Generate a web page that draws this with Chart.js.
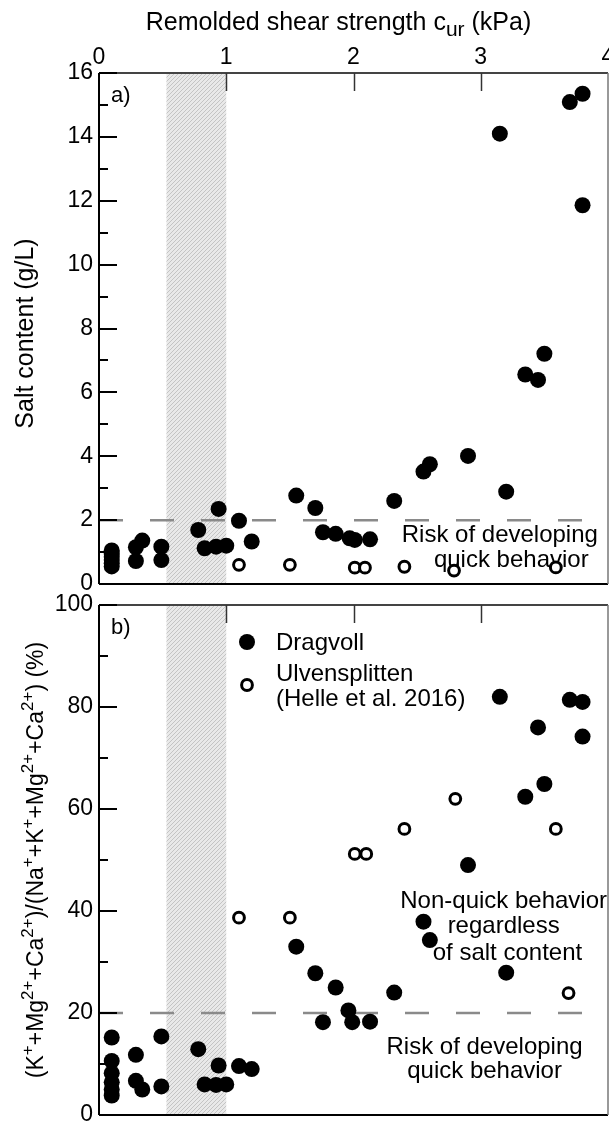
<!DOCTYPE html>
<html>
<head>
<meta charset="utf-8">
<script src="https://cdn.jsdelivr.net/npm/chart.js@4.4.1/dist/chart.umd.min.js"></script>
<style>
  html, body { margin: 0; padding: 0; background: #fff; }
  #wrap { position: relative; width: 609px; height: 1121px; overflow: hidden; }
  canvas { position: absolute; left: 0; }
  #chartA { top: 0; }
  #chartB { top: 580px; }
</style>
</head>
<body>
<div id="wrap">
  <canvas id="chartB" width="609" height="541"></canvas>
  <canvas id="chartA" width="609" height="600"></canvas>
</div>
<script>
// ---- data ----
// panel a) salt content vs remolded shear strength
const dragvollCurA  = [0.10,0.10,0.10,0.10,0.10,0.10, 0.29,0.34,0.29, 0.49,0.49, 0.78,0.83,0.92,1.00,0.94,
                       1.10,1.20, 1.55,1.70,1.76,1.86,1.97,2.01,2.13, 2.32,2.55,2.60,2.90,3.20,
                       3.15,3.35,3.45,3.50,3.70,3.80,3.80];
const dragvollSalt  = [1.05,0.95,0.85,0.75,0.65,0.55, 1.15,1.36,0.72, 1.17,0.75, 1.69,1.12,1.17,1.20,2.35,
                       1.98,1.33, 2.77,2.38,1.62,1.57,1.43,1.38,1.40, 2.60,3.52,3.75,4.01,2.89,
                       14.10,6.56,6.39,7.21,15.09,15.35,11.86];
const ulvenCurA     = [1.10,1.50,2.01,2.09,2.40,2.79,3.59];
const ulvenSalt     = [0.60,0.60,0.51,0.51,0.54,0.42,0.52];

// panel b) divalent+K ratio vs remolded shear strength
const dragvollCurB  = [0.10,0.10,0.10,0.10,0.10,0.10, 0.29,0.29,0.34, 0.49,0.49, 0.78,0.83,0.92,1.00,0.94,
                       1.10,1.20, 1.55,1.70,1.76,1.86,1.96,1.99,2.13, 2.32,2.55,2.60,2.90,3.20,
                       3.15,3.35,3.45,3.50,3.70,3.80,3.80];
const dragvollRatio = [15.2,10.6,8.2,6.4,5.0,3.8, 11.8,6.7,5.0, 15.4,5.6, 12.9,6.0,5.9,6.0,9.7,
                       9.6,9.0, 33.0,27.8,18.2,25.0,20.5,18.2,18.3, 24.0,37.9,34.3,49.0,27.9,
                       82.0,62.4,76.0,64.9,81.4,81.0,74.2];
const ulvenCurB     = [1.10,1.50,2.01,2.10,2.40,2.80,3.59,3.69];
const ulvenRatio    = [38.7,38.7,51.2,51.2,56.1,62.0,56.1,23.9];

const saltLimit  = 2;
const ratioLimit = 20;
const bandRange  = [0.53, 1.0];
const xTickMarks = [1, 2, 3];

const FONT = "'Liberation Sans', Arial, sans-serif";
Chart.defaults.font.family = FONT;
Chart.defaults.color = '#000';

function pts(xs, ys) { return xs.map((x, i) => ({ x: x, y: ys[i] })); }

function hatch(ctx) {
  const c = document.createElement('canvas');
  c.width = 4; c.height = 4;
  const g = c.getContext('2d');
  g.fillStyle = '#e9e9e9'; g.fillRect(0, 0, 4, 4);
  g.strokeStyle = '#c4c4c4'; g.lineWidth = 1;
  g.beginPath();
  g.moveTo(0, 4); g.lineTo(4, 0);
  g.moveTo(-1, 1); g.lineTo(1, -1);
  g.moveTo(3, 5); g.lineTo(5, 3);
  g.stroke();
  return ctx.createPattern(c, 'repeat');
}

// text with super/subscripts: parts = [[text, mode]] mode 0 normal, 1 sup, -1 sub
function drawRich(ctx, parts, x, y, size) {
  const fontFor = m => (m === 0 ? size : Math.round(size * (m === 1 ? 0.72 : 0.85))) + 'px ' + FONT;
  let total = 0;
  parts.forEach(p => { ctx.font = fontFor(p[1]); total += ctx.measureText(p[0]).width; });
  let cx = x - total / 2;
  ctx.textAlign = 'left';
  ctx.textBaseline = 'alphabetic';
  parts.forEach(p => {
    ctx.font = fontFor(p[1]);
    const dy = p[1] === 1 ? -size * 0.42 : (p[1] === -1 ? size * 0.25 : 0);
    ctx.fillText(p[0], cx, y + dy);
    cx += ctx.measureText(p[0]).width;
  });
}

function dataset(data, filled) {
  return {
    data: data,
    pointRadius: filled ? 8 : 5.4,
    pointBackgroundColor: filled ? '#000' : '#fff',
    pointBorderColor: '#000',
    pointBorderWidth: filled ? 0 : 3,
    order: filled ? 2 : 1
  };
}

function limitLine(v) {
  return {
    type: 'line',
    data: [{ x: 0, y: v }, { x: 4, y: v }],
    showLine: true,
    pointRadius: 0,
    borderColor: '#8a8a8a',
    borderWidth: 2.5,
    borderDash: [24, 27],
    order: 3
  };
}

function panelPlugin(o) {
  return {
    id: 'panel_' + o.label,
    beforeDatasetsDraw(chart) {
      const { ctx, chartArea: a, scales: { x, y } } = chart;
      ctx.save();
      const x0 = x.getPixelForValue(bandRange[0]), x1 = x.getPixelForValue(bandRange[1]);
      ctx.fillStyle = hatch(ctx);
      ctx.fillRect(x0, a.top, x1 - x0, a.bottom - a.top);
      ctx.fillStyle = '#000';
      ctx.font = '24px ' + FONT;
      ctx.textAlign = 'center';
      ctx.textBaseline = 'alphabetic';
      o.notes.forEach(n => ctx.fillText(n[0], x.getPixelForValue(n[1]), y.getPixelForValue(n[2])));
      ctx.restore();
    },
    afterDraw(chart) {
      const { ctx, chartArea: a, scales: { x, y } } = chart;
      ctx.save();
      // frame
      ctx.lineWidth = 2;
      ctx.strokeStyle = '#444';
      ctx.beginPath(); ctx.moveTo(a.left, a.top); ctx.lineTo(a.right, a.top); ctx.stroke();
      ctx.strokeStyle = '#000';
      ctx.beginPath(); ctx.moveTo(a.left, a.bottom); ctx.lineTo(a.right, a.bottom); ctx.stroke();
      ctx.beginPath(); ctx.moveTo(a.left, a.top); ctx.lineTo(a.left, a.bottom); ctx.stroke();
      ctx.strokeStyle = '#777'; ctx.lineWidth = 1.5;
      ctx.beginPath(); ctx.moveTo(a.right, a.top); ctx.lineTo(a.right, a.bottom); ctx.stroke();
      // inward ticks
      ctx.strokeStyle = '#000'; ctx.lineWidth = 2;
      y.ticks.forEach(t => {
        const py = Math.round(y.getPixelForValue(t.value));
        const len = t.value % o.major === 0 ? 18 : 9;
        ctx.beginPath(); ctx.moveTo(a.left, py); ctx.lineTo(a.left + len, py); ctx.stroke();
      });
      ctx.strokeStyle = '#333'; ctx.lineWidth = 1.5;
      xTickMarks.forEach(v => {
        const px = Math.round(x.getPixelForValue(v)) + 0.5;
        ctx.beginPath(); ctx.moveTo(px, a.top); ctx.lineTo(px, a.top + 18); ctx.stroke();
      });
      // panel label
      ctx.fillStyle = '#000';
      ctx.font = '22px ' + FONT;
      ctx.textAlign = 'left';
      ctx.textBaseline = 'alphabetic';
      ctx.fillText(o.label, a.left + 12, a.top + 29);
      // y title (rotated)
      ctx.save();
      ctx.translate(o.yTitleX, (a.top + a.bottom) / 2 + o.yTitleShift);
      ctx.rotate(-Math.PI / 2);
      drawRich(ctx, o.yTitle, 0, 0, o.yTitleSize);
      ctx.restore();
      if (o.xTitle) drawRich(ctx, o.xTitle, (a.left + a.right) / 2 - 15, 30, 25);
      if (o.legend) {
        const lx = a.left + 148;
        ctx.fillStyle = '#000';
        ctx.beginPath(); ctx.arc(lx, a.top + 37, 8, 0, Math.PI * 2); ctx.fill();
        ctx.beginPath(); ctx.arc(lx, a.top + 80, 5.4, 0, Math.PI * 2);
        ctx.fillStyle = '#fff'; ctx.fill();
        ctx.lineWidth = 3; ctx.strokeStyle = '#000'; ctx.stroke();
        ctx.fillStyle = '#000';
        ctx.font = '24px ' + FONT;
        ctx.textAlign = 'left';
        ctx.fillText('Dragvoll', a.left + 177, a.top + 45);
        ctx.fillText('Ulvensplitten', a.left + 177, a.top + 76);
        ctx.fillText('(Helle et al. 2016)', a.left + 177, a.top + 101);
      }
      ctx.restore();
    }
  };
}

function baseOptions(o) {
  return {
    responsive: false,
    animation: false,
    devicePixelRatio: 1,
    layout: { autoPadding: false, padding: { left: 0, right: 1, top: 0, bottom: o.padBottom } },
    plugins: { legend: { display: false }, tooltip: { enabled: false } },
    scales: {
      x: {
        type: 'linear', position: 'top', min: 0, max: 4,
        grid: { display: false, drawTicks: false },
        border: { display: false },
        ticks: { display: o.xLabels, stepSize: 1, padding: 2, font: { size: 23 } },
        afterFit: s => { s.height = o.xHeight; s.paddingLeft = 0; s.paddingRight = 0; }
      },
      y: {
        type: 'linear', min: 0, max: o.yMax,
        grid: { display: false, drawTicks: false },
        border: { display: false },
        ticks: {
          stepSize: o.yStep, autoSkip: false, padding: 6, font: { size: 23 },
          callback: v => (v % o.major === 0 ? String(v) : '')
        },
        afterFit: s => { s.width = 99; s.paddingTop = 0; s.paddingBottom = 0; }
      }
    }
  };
}

new Chart(document.getElementById('chartA'), {
  type: 'scatter',
  data: {
    datasets: [
      limitLine(saltLimit),
      dataset(pts(dragvollCurA, dragvollSalt), true),
      dataset(pts(ulvenCurA, ulvenSalt), false)
    ]
  },
  options: baseOptions({ padBottom: 16, xLabels: true, xHeight: 73, yMax: 16, yStep: 1, major: 2 }),
  plugins: [panelPlugin({
    label: 'a)', major: 2, yTitleX: 33, yTitleSize: 25, yTitleShift: 5,
    yTitle: [['Salt content (g/L)', 0]],
    xTitle: [['Remolded shear strength c', 0], ['ur', -1], [' (kPa)', 0]],
    notes: [['Risk of developing', 3.15, 1.31], ['quick behavior', 3.24, 0.52]]
  })]
});

new Chart(document.getElementById('chartB'), {
  type: 'scatter',
  data: {
    datasets: [
      limitLine(ratioLimit),
      dataset(pts(dragvollCurB, dragvollRatio), true),
      dataset(pts(ulvenCurB, ulvenRatio), false)
    ]
  },
  options: baseOptions({ padBottom: 6, xLabels: false, xHeight: 25, yMax: 100, yStep: 10, major: 20 }),
  plugins: [panelPlugin({
    label: 'b)', major: 20, yTitleX: 43, yTitleSize: 23, yTitleShift: 0, legend: true,
    yTitle: [['(K', 0], ['+', 1], ['+Mg', 0], ['2+', 1], ['+Ca', 0], ['2+', 1], [')/(Na', 0], ['+', 1],
             ['+K', 0], ['+', 1], ['+Mg', 0], ['2+', 1], ['+Ca', 0], ['2+', 1], [') (%)', 0]],
    notes: [['Non-quick behavior', 3.18, 40.5], ['regardless', 3.18, 35.6], ['of salt content', 3.21, 30.3],
            ['Risk of developing', 3.03, 11.9], ['quick behavior', 3.03, 7.2]]
  })]
});
</script>
</body>
</html>
